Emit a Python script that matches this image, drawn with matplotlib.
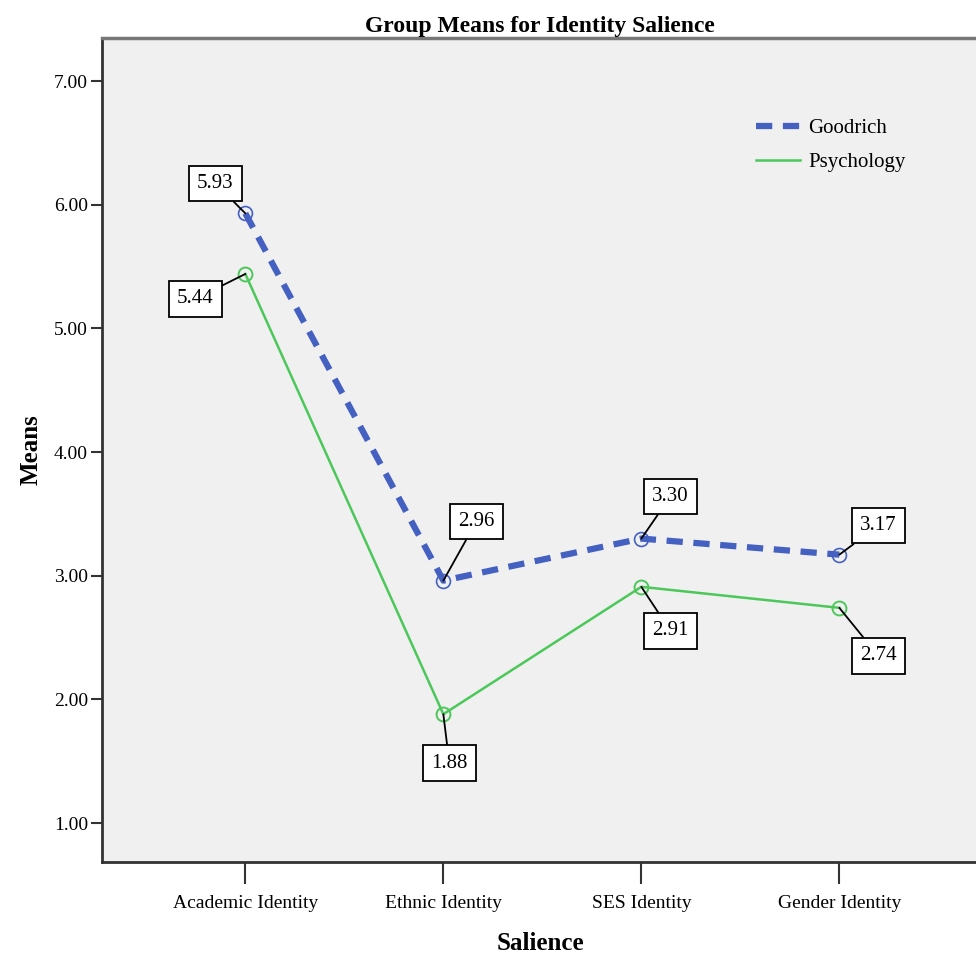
import matplotlib.pyplot as plt

categories = ["Academic Identity", "Ethnic Identity", "SES Identity", "Gender Identity"]
goodrich = [5.93, 2.96, 3.30, 3.17]
psychology = [5.44, 1.88, 2.91, 2.74]
yticks = [1, 2, 3, 4, 5, 6, 7]

# label box offsets (pixels) from each point
good_off = [(-30, 30), (33, 59), (29, 42), (39, 29)]
psy_off = [(-50, -25), (6, -49), (29, -44), (39, -48)]

plt.rcParams["font.family"] = ["Liberation Serif", "DejaVu Serif"]

fig = plt.figure(figsize=(9.76, 9.57), dpi=100)
ax = fig.add_axes([0.1045, 0.0993, 0.8975, 0.861])
ax.set_facecolor("#f0f0f0")

x = range(len(categories))
blue = "#4460c0"
green = "#4cc85a"
ax.plot(x, goodrich, color=blue, lw=4.5, ls=(0, (2.6, 1.7)), marker="o", ms=10,
        mfc="none", mec=blue, mew=1.2, label="Goodrich")
ax.plot(x, psychology, color=green, lw=1.8, marker="o", ms=10,
        mfc="none", mec=green, mew=1.4, label="Psychology")

box = dict(boxstyle="square,pad=0.4", fc="white", ec="black", lw=1.3)
for vals, offs in [(goodrich, good_off), (psychology, psy_off)]:
    for i, (v, off) in enumerate(zip(vals, offs)):
        ax.annotate(f"{v:.2f}", xy=(i, v), xytext=off, textcoords="offset pixels",
                    ha="center", va="center", fontsize=15, bbox=box,
                    arrowprops=dict(arrowstyle="-", color="black", lw=1.3,
                                    shrinkA=0, shrinkB=0))

ax.set_xlim(-0.724, 3.7)
ax.set_ylim(0.685, 7.348)
ax.set_yticks(yticks)
ax.set_yticklabels([f"{t:.2f}" for t in yticks], fontsize=14)
ax.set_xticks(list(x))
ax.set_xticklabels(categories, fontsize=14)
ax.tick_params(axis="y", length=8, width=1.5, color="#333333", pad=2)
ax.tick_params(axis="x", length=16, width=1.5, color="#333333", pad=8)

for s in ["left", "bottom"]:
    ax.spines[s].set_linewidth(2)
    ax.spines[s].set_color("#333333")
ax.spines["top"].set_linewidth(2.5)
ax.spines["top"].set_color("#777777")
ax.spines["right"].set_visible(False)

ax.set_title("Group Means for Identity Salience", fontsize=17, fontweight="bold", pad=4)
ax.set_ylabel("Means", fontsize=18, fontweight="bold", labelpad=8)
ax.set_xlabel("Salience", fontsize=18, fontweight="bold", labelpad=14)

leg = ax.legend(loc="upper left", bbox_to_anchor=(0.725, 0.925), frameon=False, fontsize=15,
                handlelength=2.1, handletextpad=0.4, labelspacing=0.7)
for h in leg.legend_handles:
    h.set_marker("")

fig.savefig("out.png", dpi=100)
